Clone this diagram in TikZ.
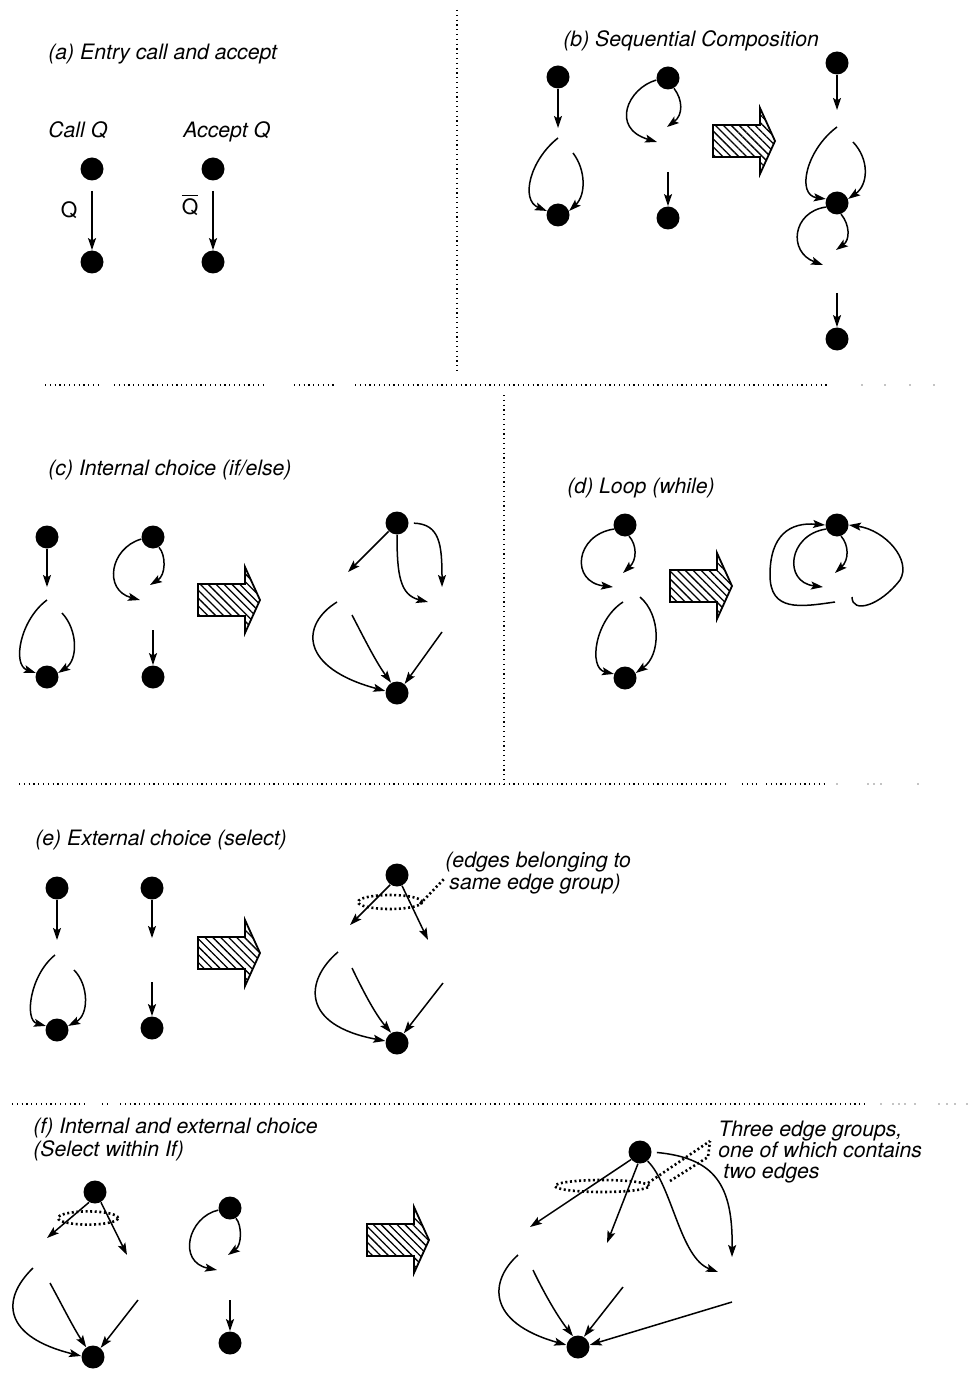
\documentclass[tikz,border=0pt]{standalone}
\usepackage{fontspec}
\setmainfont{TeX Gyre Heros}
\usetikzlibrary{arrows.meta,patterns.meta}

% hatched block arrow: left edge of the shaft at (#2,#3), pointing right
\newcommand\hatcharrow[3]{%
  \path[bigarrow] (#2,#3) coordinate (#1) ++(0,-16) -- ++(47,0) -- ++(0,-17)
    -- ++(15,33) -- ++(-15,33) -- ++(0,-17) -- ++(-47,0) -- cycle;}

\begin{document}
\begin{tikzpicture}[x=0.5pt,y=-0.5pt,
  dot/.style={circle,fill=black,minimum size=11.5pt,inner sep=0pt},
  edge/.style={line width=0.75pt,-{Stealth[length=6pt,width=4pt,inset=1.2pt]}},
  title/.style={anchor=base west,inner sep=0pt,font=\fontsize{10.6}{12}\selectfont\itshape},
  lbl/.style={inner sep=0pt,font=\fontsize{10.6}{12}\selectfont},
  sep/.style={line width=0.6pt,dash pattern=on 0.6pt off 1.8pt},
  sepdot/.style={fill=black},
  group/.style={line width=1.3pt,dash pattern=on 1pt off 1.3pt},
  bigarrow/.style={draw,line width=0.9pt,line join=miter,
    pattern={Lines[angle=-45,distance=2.8pt,line width=0.65pt]}},
]
\useasboundingbox (0,0) rectangle (969,1374);

% ---------- panel separators ----------
\draw[sep] (457,10) -- (457,372);
\draw[sep] (45,385) -- (102,385);
\draw[sep] (114,385) -- (266,385);
\draw[sep] (294,385) -- (337,385);
\draw[sep] (355,385) -- (828,385);
\foreach \x in {862,885,910,934} \fill[sepdot] (\x,385) circle[radius=0.35pt];
\draw[sep] (504,395) -- (504,784);
\draw[sep] (19,784) -- (729,784);
\draw[sep] (742,784) -- (757,784);
\draw[sep] (766,784) -- (828,784);
\foreach \x in {837,868,874,881,918} \fill[sepdot] (\x,784) circle[radius=0.35pt];
\draw[sep] (12,1104) -- (87,1104);
\draw[sep] (102,1104) -- (111,1104);
\draw[sep] (120,1104) -- (868,1104);
\foreach \x in {881,893,899,905,915,939,947,955,967} \fill[sepdot] (\x,1104) circle[radius=0.35pt];

% ---------- (a) entry call and accept ----------
\node[title] (ta) at (48,60) {(a) Entry call and accept};
\node[title] (tcall) at (48,138) {Call Q};
\node[title] (tacc) at (183,138) {Accept Q};
\node[dot] (a1) at (92,169) {};
\node[dot] (a2) at (92,262) {};
\node[dot] (a3) at (213,169) {};
\node[dot] (a4) at (213,262) {};
\draw[edge,shorten <=5pt] (a1) -- (a2);
\draw[edge,shorten <=5pt] (a3) -- (a4);
\node[lbl] (qa) at (69,210) {Q};
\node[lbl] (qb) at (190,205) {$\overline{\mbox{Q}}$};

% ---------- (b) sequential composition ----------
\node[title] (tb) at (563,47) {(b) Sequential Composition};
\node[dot] (b1) at (558,77) {};
\node[dot] (b2) at (558,215) {};
\coordinate (b1e) at (558,128);
\coordinate (b2l) at (558,138);
\coordinate (b2r) at (573,153);
\draw[edge] (b1) -- (b1e);
\draw[edge] (b2l) .. controls (530,160) and (520,200) .. (b2.160);
\draw[edge] (b2r) .. controls (586,170) and (586,195) .. (b2.20);

\node[dot] (b3) at (668,78) {};
\node[dot] (b4) at (668,218) {};
\coordinate (b3l) at (657,142);
\coordinate (b3r) at (667,127);
\coordinate (b4s) at (668,172);
\draw[edge] (b3.190) .. controls (628,88) and (610,128) .. (b3l);
\draw[edge] (b3.300) .. controls (683,100) and (683,115) .. (b3r);
\draw[edge] (b4s) -- (b4);

\hatcharrow{hb}{713}{141}

\node[dot] (b5) at (837,63) {};
\node[dot] (b6) at (837,203) {};
\node[dot] (b7) at (837,339) {};
\coordinate (b5e) at (837,110);
\coordinate (b6l) at (837,127);
\coordinate (b6r) at (853,142);
\coordinate (b6a) at (823,265);
\coordinate (b6b) at (836,250);
\coordinate (b7s) at (837,293);
\draw[edge] (b5) -- (b5e);
\draw[edge] (b6l) .. controls (806,150) and (796,195) .. (b6.160);
\draw[edge] (b6r) .. controls (870,160) and (868,185) .. (b6.20);
\draw[edge] (b6.200) .. controls (792,212) and (788,252) .. (b6a);
\draw[edge] (b6.290) .. controls (850,225) and (850,240) .. (b6b);
\draw[edge] (b7s) -- (b7);

% ---------- (c) internal choice ----------
\node[title] (tc) at (48,475) {(c) Internal choice (if/else)};
\node[dot] (c1) at (47,537) {};
\node[dot] (c2) at (47,677) {};
\coordinate (c1e) at (47,587);
\coordinate (c2l) at (47,600);
\coordinate (c2r) at (62,613);
\draw[edge] (c1) -- (c1e);
\draw[edge] (c2l) .. controls (20,620) and (12,665) .. (c2.160);
\draw[edge] (c2r) .. controls (78,630) and (78,660) .. (c2.20);

\node[dot] (c3) at (153,537) {};
\node[dot] (c4) at (153,677) {};
\coordinate (c3l) at (140,600);
\coordinate (c3r) at (150,585);
\coordinate (c4s) at (153,630);
\draw[edge] (c3.190) .. controls (110,548) and (103,590) .. (c3l);
\draw[edge] (c3.300) .. controls (166,555) and (166,575) .. (c3r);
\draw[edge] (c4s) -- (c4);

\hatcharrow{hc}{198}{600}

\node[dot] (c5) at (397,523) {};
\node[dot] (c6) at (397,693) {};
\coordinate (c5a) at (348,572);
\coordinate (c5b) at (428,602);
\coordinate (c5c) at (442,587);
\coordinate (c6a) at (337,602);
\coordinate (c6b) at (352,615);
\coordinate (c6c) at (442,632);
\draw[edge] (c5.225) -- (c5a);
\draw[edge] (c5.270) .. controls (397,575) and (400,595) .. (c5b);
\draw[edge,shorten <=2.5pt] (c5.east) .. controls (440,524) and (442,545) .. (c5c);
\draw[edge] (c6a) .. controls (300,625) and (300,668) .. (c6.170);
\draw[edge] (c6b) .. controls (365,640) and (376,662) .. (c6.120);
\draw[edge] (c6c) -- (c6.50);

% ---------- (d) loop ----------
\node[title] (td) at (567,493) {(d) Loop (while)};
\node[dot] (d1) at (625,525) {};
\node[dot] (d2) at (625,678) {};
\coordinate (d1l) at (613,587);
\coordinate (d1r) at (623,573);
\coordinate (d2l) at (623,602);
\coordinate (d2r) at (640,597);
\draw[edge] (d1.200) .. controls (575,535) and (570,582) .. (d1l);
\draw[edge] (d1.290) .. controls (637,545) and (637,560) .. (d1r);
\draw[edge] (d2l) .. controls (595,620) and (588,668) .. (d2.160);
\draw[edge] (d2r) .. controls (661,615) and (661,655) .. (d2.25);

\hatcharrow{hd}{670}{586}

\node[dot] (d3) at (837,525) {};
\coordinate (d3l) at (823,587);
\coordinate (d3r) at (835,573);
\coordinate (d3o) at (835,602);
\coordinate (d3p) at (852,597);
\draw[edge] (d3.200) .. controls (788,535) and (783,582) .. (d3l);
\draw[edge] (d3.290) .. controls (849,545) and (849,560) .. (d3r);
\draw[edge] (d3o) .. controls (800,607) and (770,612) .. (770,575)
  .. controls (770,535) and (790,522) .. (d3.180);
\draw[edge] (d3p) .. controls (852,614) and (880,606) .. (900,580)
  .. controls (912,560) and (885,530) .. (d3.0);

% ---------- (e) external choice ----------
\node[title] (te) at (35,845) {(e) External choice (select)};
\node[dot] (e1) at (57,888) {};
\node[dot] (e2) at (57,1030) {};
\coordinate (e1e) at (57,940);
\coordinate (e2l) at (55,955);
\coordinate (e2r) at (74,970);
\draw[edge] (e1) -- (e1e);
\draw[edge] (e2l) .. controls (30,975) and (24,1020) .. (e2.160);
\draw[edge] (e2r) .. controls (89,985) and (89,1015) .. (e2.20);

\node[dot] (e3) at (152,888) {};
\node[dot] (e4) at (152,1028) {};
\coordinate (e3e) at (152,938);
\coordinate (e4s) at (152,982);
\draw[edge] (e3) -- (e3e);
\draw[edge] (e4s) -- (e4);

\hatcharrow{he}{198}{953}

\node[dot] (e5) at (397,875) {};
\node[dot] (e6) at (397,1043) {};
\coordinate (e5a) at (350,925);
\coordinate (e5b) at (428,940);
\coordinate (e6a) at (338,952);
\coordinate (e6b) at (352,968);
\coordinate (e6c) at (443,983);
\draw[edge] (e5.235) -- (e5a);
\draw[edge] (e5.295) -- (e5b);
\draw[group] (390,902) ellipse[x radius=16pt,y radius=3.5pt];
\draw[group] (420,904) -- (444,879);
\node[title] (tel1) at (445,867) {(edges belonging to};
\node[title] (tel2) at (449,889) {same edge group)};
\draw[edge] (e6a) .. controls (305,980) and (300,1025) .. (e6.170);
\draw[edge] (e6b) .. controls (365,995) and (376,1015) .. (e6.120);
\draw[edge] (e6c) -- (e6.55);

% ---------- (f) internal and external choice ----------
\node[title] (tf1) at (33,1133) {(f) Internal and external choice};
\node[title] (tf2) at (33,1156) {(Select within If)};
\node[dot] (f1) at (95,1192) {};
\node[dot] (f2) at (93,1357) {};
\coordinate (f1a) at (47,1238);
\coordinate (f1b) at (127,1255);
\coordinate (f2a) at (33,1268);
\coordinate (f2b) at (50,1283);
\coordinate (f2c) at (138,1300);
\draw[edge] (f1.240) -- (f1a);
\draw[edge] (f1.300) -- (f1b);
\draw[group] (88,1218) ellipse[x radius=15pt,y radius=3.3pt];
\draw[edge] (f2a) .. controls (0,1300) and (4,1337) .. (f2.175);
\draw[edge] (f2b) .. controls (62,1305) and (73,1327) .. (f2.125);
\draw[edge] (f2c) -- (f2.50);

\node[dot] (f3) at (230,1208) {};
\node[dot] (f4) at (230,1343) {};
\coordinate (f3l) at (217,1270);
\coordinate (f3r) at (228,1255);
\coordinate (f4s) at (230,1300);
\draw[edge] (f3.190) .. controls (188,1217) and (177,1262) .. (f3l);
\draw[edge] (f3.300) .. controls (242,1225) and (242,1245) .. (f3r);
\draw[edge] (f4s) -- (f4);

\hatcharrow{hf}{367}{1240}

\node[dot] (f5) at (640,1152) {};
\node[dot] (f6) at (578,1347) {};
\coordinate (f5a) at (530,1227);
\coordinate (f5b) at (607,1243);
\coordinate (f5c) at (718,1272);
\coordinate (f5d) at (732,1257);
\coordinate (f6a) at (518,1255);
\coordinate (f6b) at (533,1270);
\coordinate (f6c) at (623,1287);
\coordinate (f6d) at (732,1302);
\draw[edge] (f5.220) -- (f5a);
\draw[edge] (f5.260) -- (f5b);
\draw[edge] (f5.310) .. controls (672,1185) and (680,1258) .. (f5c);
\draw[edge,shorten <=2.5pt] (f5.east) .. controls (715,1158) and (733,1185) .. (f5d);
\draw[group] (602,1186) ellipse[x radius=23.5pt,y radius=3pt];
\draw[group] (648,1183) -- (710,1141);
\draw[group] (670,1181) -- (708,1157) -- (710,1141);
\node[title] (tfl1) at (718,1136) {Three edge groups,};
\node[title] (tfl2) at (718,1157) {one of which contains};
\node[title] (tfl3) at (723,1178) {two edges};
\draw[edge] (f6a) .. controls (490,1280) and (485,1322) .. (f6.170);
\draw[edge] (f6b) .. controls (545,1295) and (558,1317) .. (f6.115);
\draw[edge] (f6c) -- (f6.60);
\draw[edge] (f6d) -- (f6.10);

\end{tikzpicture}
\end{document}
